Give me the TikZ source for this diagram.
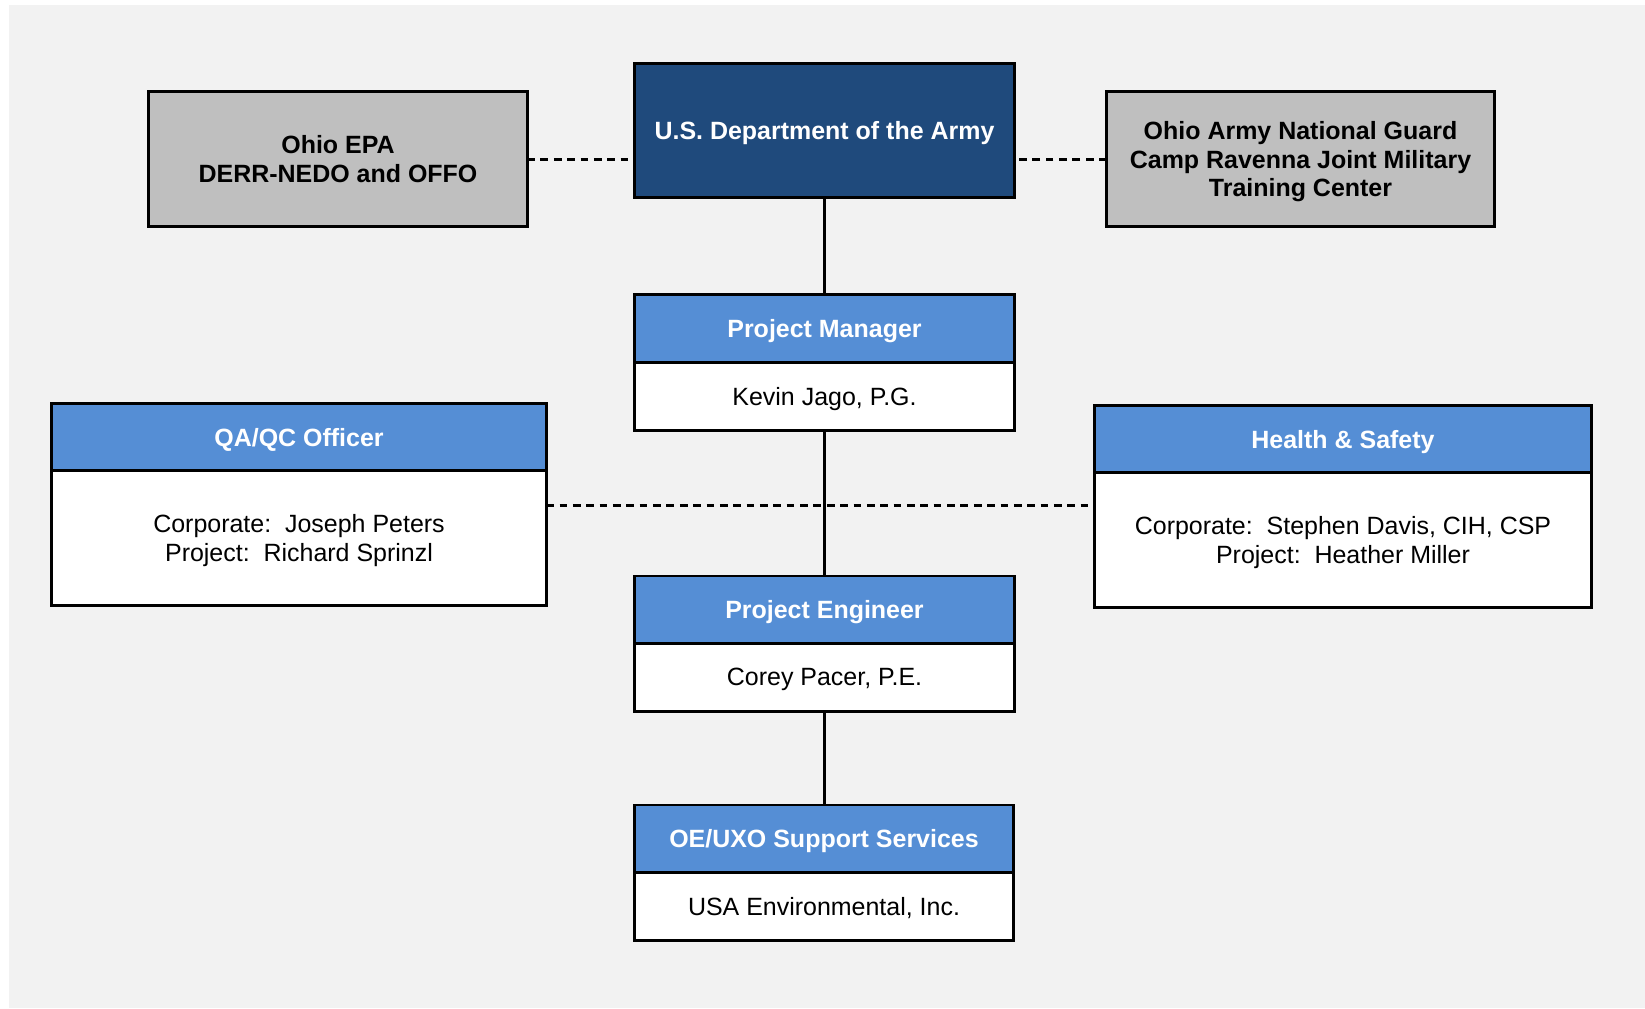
\documentclass[tikz,border=0pt]{standalone}
\usepackage{fontspec}
\setmainfont{Liberation Sans}
\usetikzlibrary{positioning}
\definecolor{navy}{HTML}{1F4A7C}
\definecolor{hdrblue}{HTML}{558ED5}
\definecolor{boxgray}{HTML}{BFBFBF}
\definecolor{bggray}{HTML}{F2F2F2}
\tikzset{
  orgbox/.style={draw, line width=0.85pt, align=center, inner sep=0pt, outer sep=0pt,
    text depth=0pt, font=\fontsize{7.1}{8.2}\selectfont},
  topbox/.style={orgbox, fill=boxgray, font=\fontsize{7.1}{8.2}\selectfont\bfseries},
  armybox/.style={orgbox, fill=navy, text=white, font=\fontsize{7.1}{8.2}\selectfont\bfseries},
  hdr/.style={orgbox, fill=hdrblue, text=white, minimum height=6.7mm,
    font=\fontsize{7.1}{8.2}\selectfont\bfseries},
  body/.style={orgbox, fill=white},
  solidlink/.style={line width=0.85pt},
  dashlink/.style={line width=0.85pt, dashed, dash pattern=on 2.2pt off 1.6pt}
}
\begin{document}
\begin{tikzpicture}[x=0.01cm, y=-0.01cm]
      % page and background
      \useasboundingbox (0,0) rectangle (1645,1008);
      \fill[bggray] (9,5) rectangle (1645,1008);
      % top row
      \node[armybox, minimum width=37.9mm, minimum height=13.3mm] (army) at (824.5,130.5) {U.S. Department of the Army};
      \node[topbox, minimum width=37.8mm, minimum height=13.4mm] (epa) at (338,159) {Ohio EPA\\DERR-NEDO and OFFO};
      \node[topbox, minimum width=38.7mm, minimum height=13.4mm] (arng) at (1300.5,159) {Ohio Army National Guard\\Camp Ravenna Joint Military\\Training Center};
      % project manager
      \node[hdr, minimum width=37.9mm] (pmh) at (824.5,328.5) {Project Manager};
      \node[body, minimum width=37.9mm, minimum height=6.8mm, below=0pt of pmh] (pmb) {Kevin Jago, P.G.};
      % qa/qc and health & safety
      \node[hdr, minimum width=49.4mm] (qah) at (299,437) {QA/QC Officer};
      \node[body, minimum width=49.4mm, minimum height=13.5mm, below=0pt of qah] (qab) {Corporate:\ \ Joseph Peters\\Project:\ \ Richard Sprinzl};
      \node[hdr, minimum width=49.6mm] (hsh) at (1343,439) {Health \& Safety};
      \node[body, minimum width=49.6mm, minimum height=13.5mm, below=0pt of hsh] (hsb) {Corporate:\ \ Stephen Davis, CIH, CSP\\Project:\ \ Heather Miller};
      % project engineer
      \node[hdr, minimum width=37.9mm] (peh) at (824.5,609.5) {Project Engineer};
      \node[body, minimum width=37.9mm, minimum height=6.8mm, below=0pt of peh] (peb) {Corey Pacer, P.E.};
      % oe/uxo
      \node[hdr, minimum width=37.9mm] (oeh) at (824,838.5) {OE/UXO Support Services};
      \node[body, minimum width=37.9mm, minimum height=6.8mm, below=0pt of oeh] (oeb) {USA Environmental, Inc.};
      % links
      \draw[dashlink] (epa.east) -- (epa.east -| army.west);
      \draw[dashlink] (arng.west) -- (arng.west -| army.east);
      \draw[dashlink] (qab.east |- 0,505) -- (hsb.west |- 0,505);
      \draw[solidlink] (army.south) -- (pmh.north);
      \draw[solidlink] (pmb.south) -- (peh.north);
      \draw[solidlink] (peb.south) -- (peb.south |- oeh.north);
    \end{tikzpicture}
\end{document}
